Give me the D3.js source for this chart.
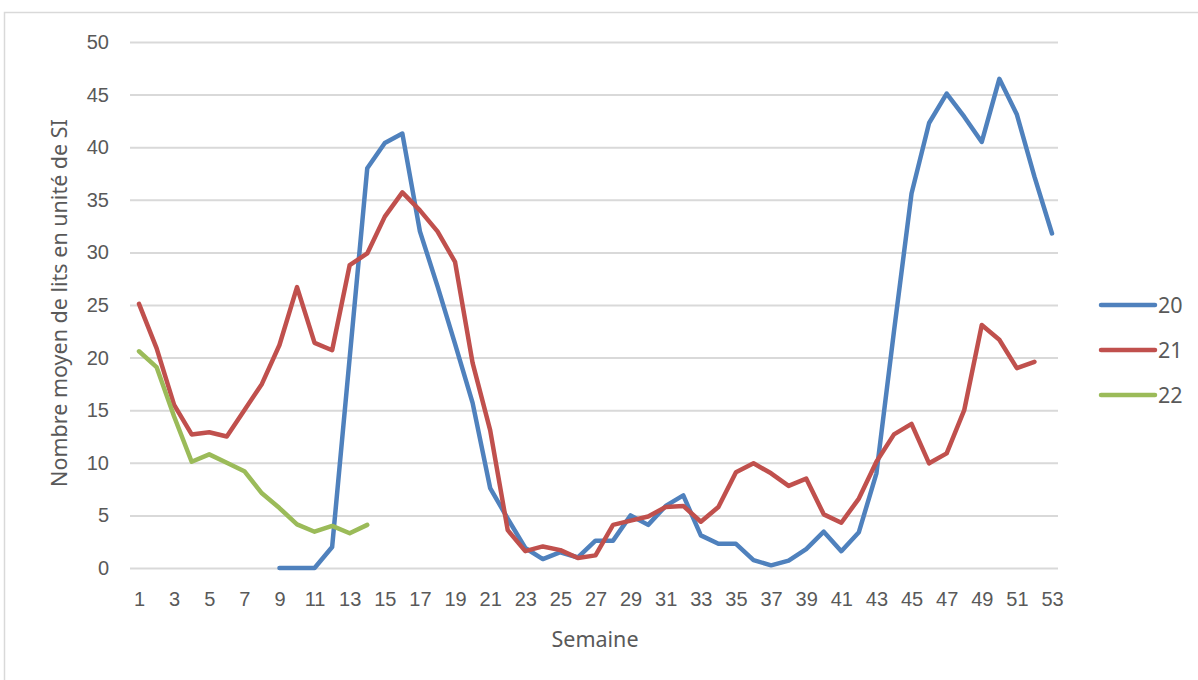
<!DOCTYPE html>
<html><head><meta charset="utf-8">
<script src="https://cdn.jsdelivr.net/npm/d3@7"></script>
<style>body{margin:0;background:#fff;}svg{display:block;font-family:"Noto Sans",sans-serif;}</style>
</head><body>
<script>
const weeks = d3.range(1, 54);
const seriesNames = ["20", "21", "22"];
const colors = ["#4F81BD", "#C0504D", "#9BBB59"];
const yTicks = [0, 5, 10, 15, 20, 25, 30, 35, 40, 45, 50];
const xTickLabels = d3.range(1, 54, 2);
const startWeek = [9, 1, 1];
const s20 = [0, 0, 0, 2.0, 20, 38.0, 40.4, 41.3, 32.0, 26.8, 21.3, 15.7, 7.6, 4.7, 1.9, 0.85, 1.5, 1.0, 2.6, 2.6, 5.0, 4.1, 5.9, 6.9, 3.1, 2.3, 2.3, 0.75, 0.25, 0.7, 1.8, 3.45, 1.6, 3.4, 9.0, 22.5, 35.6, 42.3, 45.1, 42.9, 40.5, 46.5, 43.1, 37.2, 31.8];
const s21 = [25.1, 20.9, 15.5, 12.7, 12.9, 12.5, 15.0, 17.5, 21.2, 26.7, 21.4, 20.7, 28.8, 29.9, 33.4, 35.7, 34.0, 32.0, 29.1, 19.5, 13.1, 3.6, 1.6, 2.05, 1.7, 0.95, 1.2, 4.1, 4.5, 4.9, 5.8, 5.9, 4.4, 5.8, 9.1, 9.95, 9.0, 7.8, 8.5, 5.1, 4.3, 6.6, 10.1, 12.7, 13.7, 9.95, 10.9, 15.0, 23.1, 21.7, 19.0, 19.6];
const s22 = [20.6, 19.1, 14.4, 10.1, 10.8, 10.0, 9.2, 7.1, 5.7, 4.15, 3.45, 4.0, 3.3, 4.1];
const seriesValues = [s20, s21, s22];

const W = 1198, H = 680;
const svg = d3.select("body").append("svg").attr("width", W).attr("height", H);
svg.append("rect").attr("x", 4.5).attr("y", 12.5).attr("width", 1300).attr("height", 800)
  .attr("fill", "#fff").attr("stroke", "#D9D9D9").attr("stroke-width", 1.5);

const x = d3.scalePoint().domain(weeks).range([139, 1052]);
const y = d3.scaleLinear().domain([0, 50]).range([568, 42]);
const gridL = 130, gridR = 1058;

const yAxis = svg.append("g").attr("transform", `translate(${gridL},0)`)
  .call(d3.axisLeft(y).tickValues(yTicks).tickSize(-(gridR - gridL)).tickPadding(21));
yAxis.select(".domain").remove();
yAxis.selectAll(".tick line").attr("stroke", "#D9D9D9").attr("stroke-width", 2);
yAxis.selectAll(".tick text").attr("fill", "#595959").style("font-size", "20px");

const xAxis = svg.append("g").attr("transform", `translate(0,568)`)
  .call(d3.axisBottom(x).tickValues(xTickLabels).tickSize(0).tickPadding(24));
xAxis.select(".domain").remove();
xAxis.selectAll(".tick text").attr("fill", "#595959").style("font-size", "20px");

const line = d3.line().x(d => x(d[0])).y(d => y(d[1]));
seriesValues.forEach((vals, i) => {
  const pts = vals.map((v, j) => [startWeek[i] + j, v]);
  svg.append("path").datum(pts).attr("d", line).attr("fill", "none")
    .attr("stroke", colors[i]).attr("stroke-width", 4.5)
    .attr("stroke-linejoin", "round").attr("stroke-linecap", "round");
});

svg.append("text").attr("transform", "translate(67,303) rotate(-90)")
  .attr("text-anchor", "middle").attr("fill", "#595959").style("font-size", "21.5px")
  .text("Nombre moyen de lits en unité de SI");
svg.append("text").attr("x", 595).attr("y", 647).attr("text-anchor", "middle")
  .attr("fill", "#595959").style("font-size", "21.5px").text("Semaine");

const legY = [305, 350, 395];
seriesNames.forEach((n, i) => {
  svg.append("line").attr("x1", 1101).attr("x2", 1155).attr("y1", legY[i]).attr("y2", legY[i])
    .attr("stroke", colors[i]).attr("stroke-width", 4.5).attr("stroke-linecap", "round");
  svg.append("text").attr("x", 1158).attr("y", legY[i]).attr("dy", "0.35em")
    .attr("fill", "#595959").style("font-size", "21.5px").text(n);
});
</script>
</body></html>
